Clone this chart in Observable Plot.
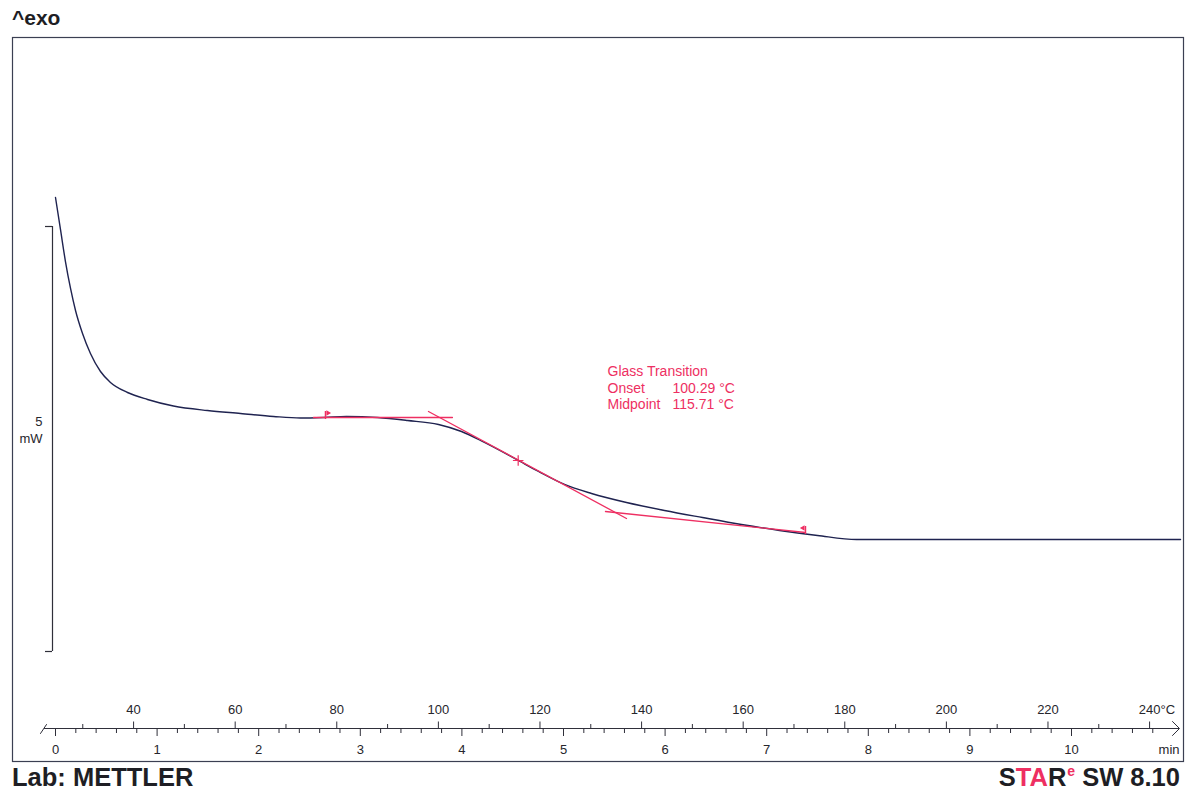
<!DOCTYPE html>
<html><head><meta charset="utf-8">
<script src="https://cdn.jsdelivr.net/npm/d3@7"></script>
<script src="https://cdn.jsdelivr.net/npm/@observablehq/plot@0.6"></script>
<style>
html,body{margin:0;padding:0;background:#fff;}
#wrap{position:relative;width:1197px;height:793px;overflow:hidden;font-family:"Liberation Sans",Arial,sans-serif;}
#wrap svg{position:absolute;left:0;top:0;}
.lbl{position:absolute;font-weight:bold;color:#1e1e24;white-space:nowrap;line-height:1;}
.red{color:#ee2f62;}
</style></head><body>
<div id="wrap">
  <div class="lbl" style="left:12px;top:7px;font-size:21px;">^exo</div>
  <div class="lbl" style="left:12px;top:764.5px;font-size:25.5px;">Lab: METTLER</div>
  <div class="lbl" style="right:17px;top:764.5px;font-size:25.5px;">S<span class="red">TA</span>R<span class="red" style="font-size:14px;position:relative;top:-10px;margin-left:1px;">e</span> SW 8.10</div>
</div>
<script>
// ---- data ----
const timeMin  = [0, 0.049, 0.098, 0.148, 0.197, 0.266, 0.344, 0.443, 0.541, 0.709, 0.906, 1.161, 1.496, 1.821, 2.146, 2.411, 2.638, 2.864, 3.169, 3.465, 3.770, 3.996, 4.222, 4.537, 4.754, 5.010, 5.276, 5.620, 5.994, 6.368, 6.752, 7.126, 7.500, 7.884, 8.297, 9.301, 10.285, 11.073];
const heatFlow = [5.341, 4.965, 4.588, 4.271, 4.012, 3.741, 3.506, 3.294, 3.165, 3.047, 2.965, 2.888, 2.835, 2.800, 2.765, 2.747, 2.753, 2.765, 2.753, 2.718, 2.671, 2.588, 2.459, 2.259, 2.118, 1.965, 1.859, 1.753, 1.659, 1.576, 1.494, 1.424, 1.365, 1.318, 1.318, 1.318, 1.318, 1.318];
const timeTicks = [0,1,2,3,4,5,6,7,8,9,10];
const tempTicks = [40,60,80,100,120,140,160,180,200,220,240];
const tempMinorTicks = [30,50,70,90,110,130,150,170,190,210,230];
const tempStart = 24.63;     // °C at t = 0
const heatingRate = 20;      // K/min
const scaleBar = [0, 5];     // mW
// glass transition evaluation
const tangentT  = [[2.539, 3.907], [3.671, 5.620], [5.413, 7.382]];
const tangentHF = [[2.753, 2.753], [2.824, 1.565], [1.647, 1.400]];
const limitT  = [2.657, 7.382];
const limitHF = [2.753, 1.400];
const onsetC = 100.29, midpointC = 115.71;
const midpointHF = 2.247;

// ---- layout helpers (pixel -> data units) ----
const X0 = 55, PX_PER_MIN = 101.6, Y0 = 651, PX_PER_MW = 85;
const tx = px => (px - X0) / PX_PER_MIN;
const my = py => (Y0 - py) / PX_PER_MW;
const tOfT = T => (T - tempStart) / heatingRate;

const red = "#ee2f62", ink = "#1f2350", txt = "#26262c", axisC = "#2f2f3a";
const curve = timeMin.map((t, i) => ({t, hf: heatFlow[i]}));
const tangents = tangentT.flatMap((ts, k) => ts.map((t, j) => ({id: k, t, hf: tangentHF[k][j]})));
const minorTime = d3.range(0, 55).map(i => +(i * 0.2).toFixed(1)).filter(v => v % 1 !== 0 && v <= 10.8);
const axisY = my(728);

const chart = Plot.plot({
  width: 1197, height: 793,
  marginLeft: 12, marginRight: 14, marginTop: 37, marginBottom: 32,
  x: {domain: [0, 10], range: [55, 1071], axis: null},
  y: {domain: [0, 5], range: [651, 226], axis: null},
  style: {fontFamily: "Liberation Sans, Arial, sans-serif", background: "transparent", overflow: "visible"},
  marks: [
    Plot.frame({stroke: "#3b3f52", strokeWidth: 1.2}),
    // scale bar
    Plot.ruleX([tx(52)], {y1: scaleBar[0], y2: scaleBar[1], stroke: axisC, strokeWidth: 1.2}),
    Plot.ruleY(scaleBar, {x1: tx(45), x2: tx(52), stroke: axisC, strokeWidth: 1.2}),
    Plot.text([scaleBar[1]], {x: tx(42), y: my(421), text: d => String(d), textAnchor: "end", fontSize: 13, fill: txt}),
    Plot.text(["mW"], {x: tx(42), y: my(438), text: d => d, textAnchor: "end", fontSize: 13, fill: txt}),
    // x axis line, start slash and arrow
    Plot.ruleY([axisY], {x1: tx(44), x2: tx(1179), stroke: axisC, strokeWidth: 1.2}),
    Plot.line([[tx(40), my(733)], [tx(46), my(724)]], {stroke: axisC, strokeWidth: 1}),
    Plot.line([[tx(1172), my(721)], [tx(1179), my(728)], [tx(1172), my(735)]], {stroke: axisC, strokeWidth: 1}),
    // time ticks (below)
    Plot.ruleX(timeTicks, {x: d => d, y1: axisY, y2: my(736), stroke: axisC}),
    Plot.ruleX(minorTime, {x: d => d, y1: axisY, y2: my(733), stroke: axisC}),
    Plot.text(timeTicks, {x: d => d, y: my(749.5), text: d => String(d), fontSize: 13, fill: txt}),
    Plot.text(["min"], {x: tx(1179), y: my(749.5), text: d => d, textAnchor: "end", fontSize: 13, fill: txt}),
    // temperature ticks (above)
    Plot.ruleX(tempTicks, {x: tOfT, y1: my(729), y2: my(721.5), stroke: axisC}),
    Plot.ruleX(tempMinorTicks, {x: tOfT, y1: my(729), y2: my(724), stroke: axisC}),
    Plot.text(tempTicks, {x: tOfT, y: my(709.5), text: d => String(d), fontSize: 13, fill: txt}),
    Plot.text(["°C"], {x: tOfT(tempTicks[tempTicks.length - 1]), dx: 11, y: my(709.5), text: d => d, textAnchor: "start", fontSize: 13, fill: txt}),
    // measured curve
    Plot.line(curve, {x: "t", y: "hf", curve: "monotone-x", stroke: ink, strokeWidth: 1.4}),
    // evaluation tangents
    Plot.line(tangents, {x: "t", y: "hf", z: "id", stroke: red, strokeWidth: 1.3}),
    Plot.ruleX(limitT.map((t, i) => ({t, hf: limitHF[i]})), {x: "t", y1: d => d.hf - 2 / PX_PER_MW, y2: d => d.hf + 6 / PX_PER_MW, stroke: red, strokeWidth: 1.4}),
    Plot.dot([{t: limitT[0], hf: limitHF[0]}], {x: "t", y: "hf", dx: 2.5, dy: -4.5, symbol: "triangle", rotate: 90, r: 2, fill: red}),
    Plot.dot([{t: limitT[1], hf: limitHF[1]}], {x: "t", y: "hf", dx: -2.5, dy: -4.5, symbol: "triangle", rotate: -90, r: 2, fill: red}),
    Plot.dot([{t: tOfT(midpointC), hf: midpointHF}], {x: "t", y: "hf", symbol: "plus", r: 3.5, stroke: red, strokeWidth: 1.2}),
    // annotation
    Plot.text(["Glass Transition"], {x: tx(607), y: my(371), text: d => d, textAnchor: "start", fontSize: 14, fill: red}),
    Plot.text(["Onset", "Midpoint"], {x: tx(607), y: (d, i) => my(388 + i * 16.5), text: d => d, textAnchor: "start", fontSize: 14, fill: red}),
    Plot.text([onsetC, midpointC], {x: tx(672), y: (d, i) => my(388 + i * 16.5), text: d => d.toFixed(2) + " °C", textAnchor: "start", fontSize: 14, fill: red})
  ]
});
document.getElementById("wrap").prepend(chart);
</script>
</body></html>
